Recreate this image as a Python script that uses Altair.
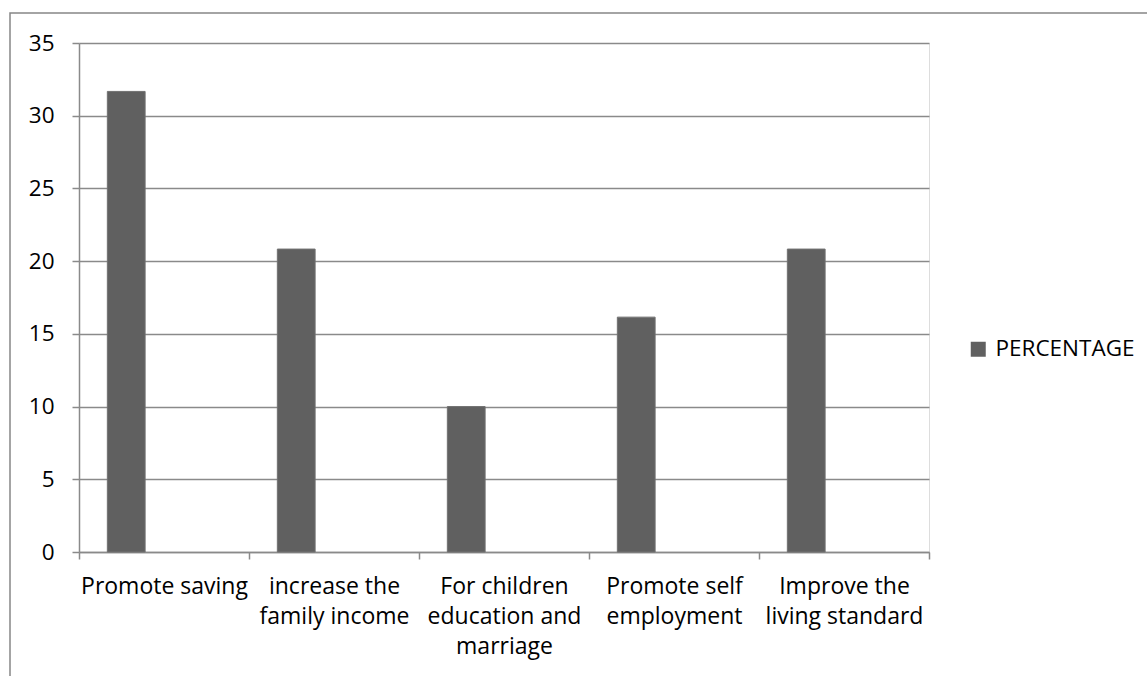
import altair as alt
import pandas as pd

categories = [
    "Promote saving",
    "increase the|family income",
    "For children|education and|marriage",
    "Promote self|employment",
    "Improve the|living standard",
]
values = [31.67, 20.83, 10.0, 16.15, 20.83]
series_name = "PERCENTAGE"
y_ticks = [0, 5, 10, 15, 20, 25, 30, 35]

df = pd.DataFrame({"category": categories, "value": values, "series": [series_name] * len(categories)})

GRID = "#8a8a8a"
BAR = "#606060"
FONT = "Open Sans"

bars = alt.Chart(df).mark_bar(color=BAR, stroke="#727272", strokeWidth=1).encode(
    x=alt.X(
        "category:N",
        sort=categories,
        scale=alt.Scale(paddingInner=0, paddingOuter=0),
        axis=alt.Axis(
            title=None,
            labelAngle=0,
            labelExpr="split(datum.label, '|')",
            labelLineHeight=30,
            labelFontSize=23,
            labelColor="black",
            labelPadding=16,
            tickBand="extent",
            tickSize=7,
            tickColor=GRID,
            tickWidth=1.5,
            domainColor=GRID,
            domainWidth=1.5,
            grid=False,
            labelFont=FONT,
        ),
    ),
    xOffset=alt.XOffset(
        "series:N",
        scale=alt.Scale(domain=[series_name, "_b", "_c"], paddingInner=0, paddingOuter=0.75),
    ),
    y=alt.Y(
        "value:Q",
        scale=alt.Scale(domain=[0, 35], nice=False),
        axis=alt.Axis(
            title=None,
            values=y_ticks,
            labelFontSize=22.5,
            labelColor="black",
            labelPadding=18,
            labelFont=FONT,
            tickSize=7,
            tickColor=GRID,
            tickWidth=1.5,
            domainColor=GRID,
            domainWidth=1.5,
            gridColor=GRID,
            gridWidth=1.5,
        ),
    ),
    color=alt.Color(
        "series:N",
        scale=alt.Scale(domain=[series_name], range=[BAR]),
        legend=alt.Legend(
            title=None,
            orient="none",
            legendX=888,
            legendY=295,
            symbolType="square",
            symbolSize=225,
            symbolStrokeWidth=0,
            labelFontSize=22.5,
            labelFont=FONT,
            labelColor="black",
            labelOffset=6,
            padding=0,
        ),
    ),
)

frame = alt.Chart(alt.Data(values=[{}])).mark_rect(
    fillOpacity=0, stroke="#868686", strokeWidth=1.5
).encode(
    x=alt.value(-69), x2=alt.value(1120), y=alt.value(-30), y2=alt.value(700)
)

chart = alt.layer(frame, bars).properties(
    width=850,
    height=509,
    autosize=alt.AutoSizeParams(type="none"),
    padding={"left": 79, "top": 43, "right": 218, "bottom": 124},
).configure_view(stroke=None).configure(font=FONT, background="white")

chart.save("out.html", embed_options={"renderer": "svg", "actions": False})
